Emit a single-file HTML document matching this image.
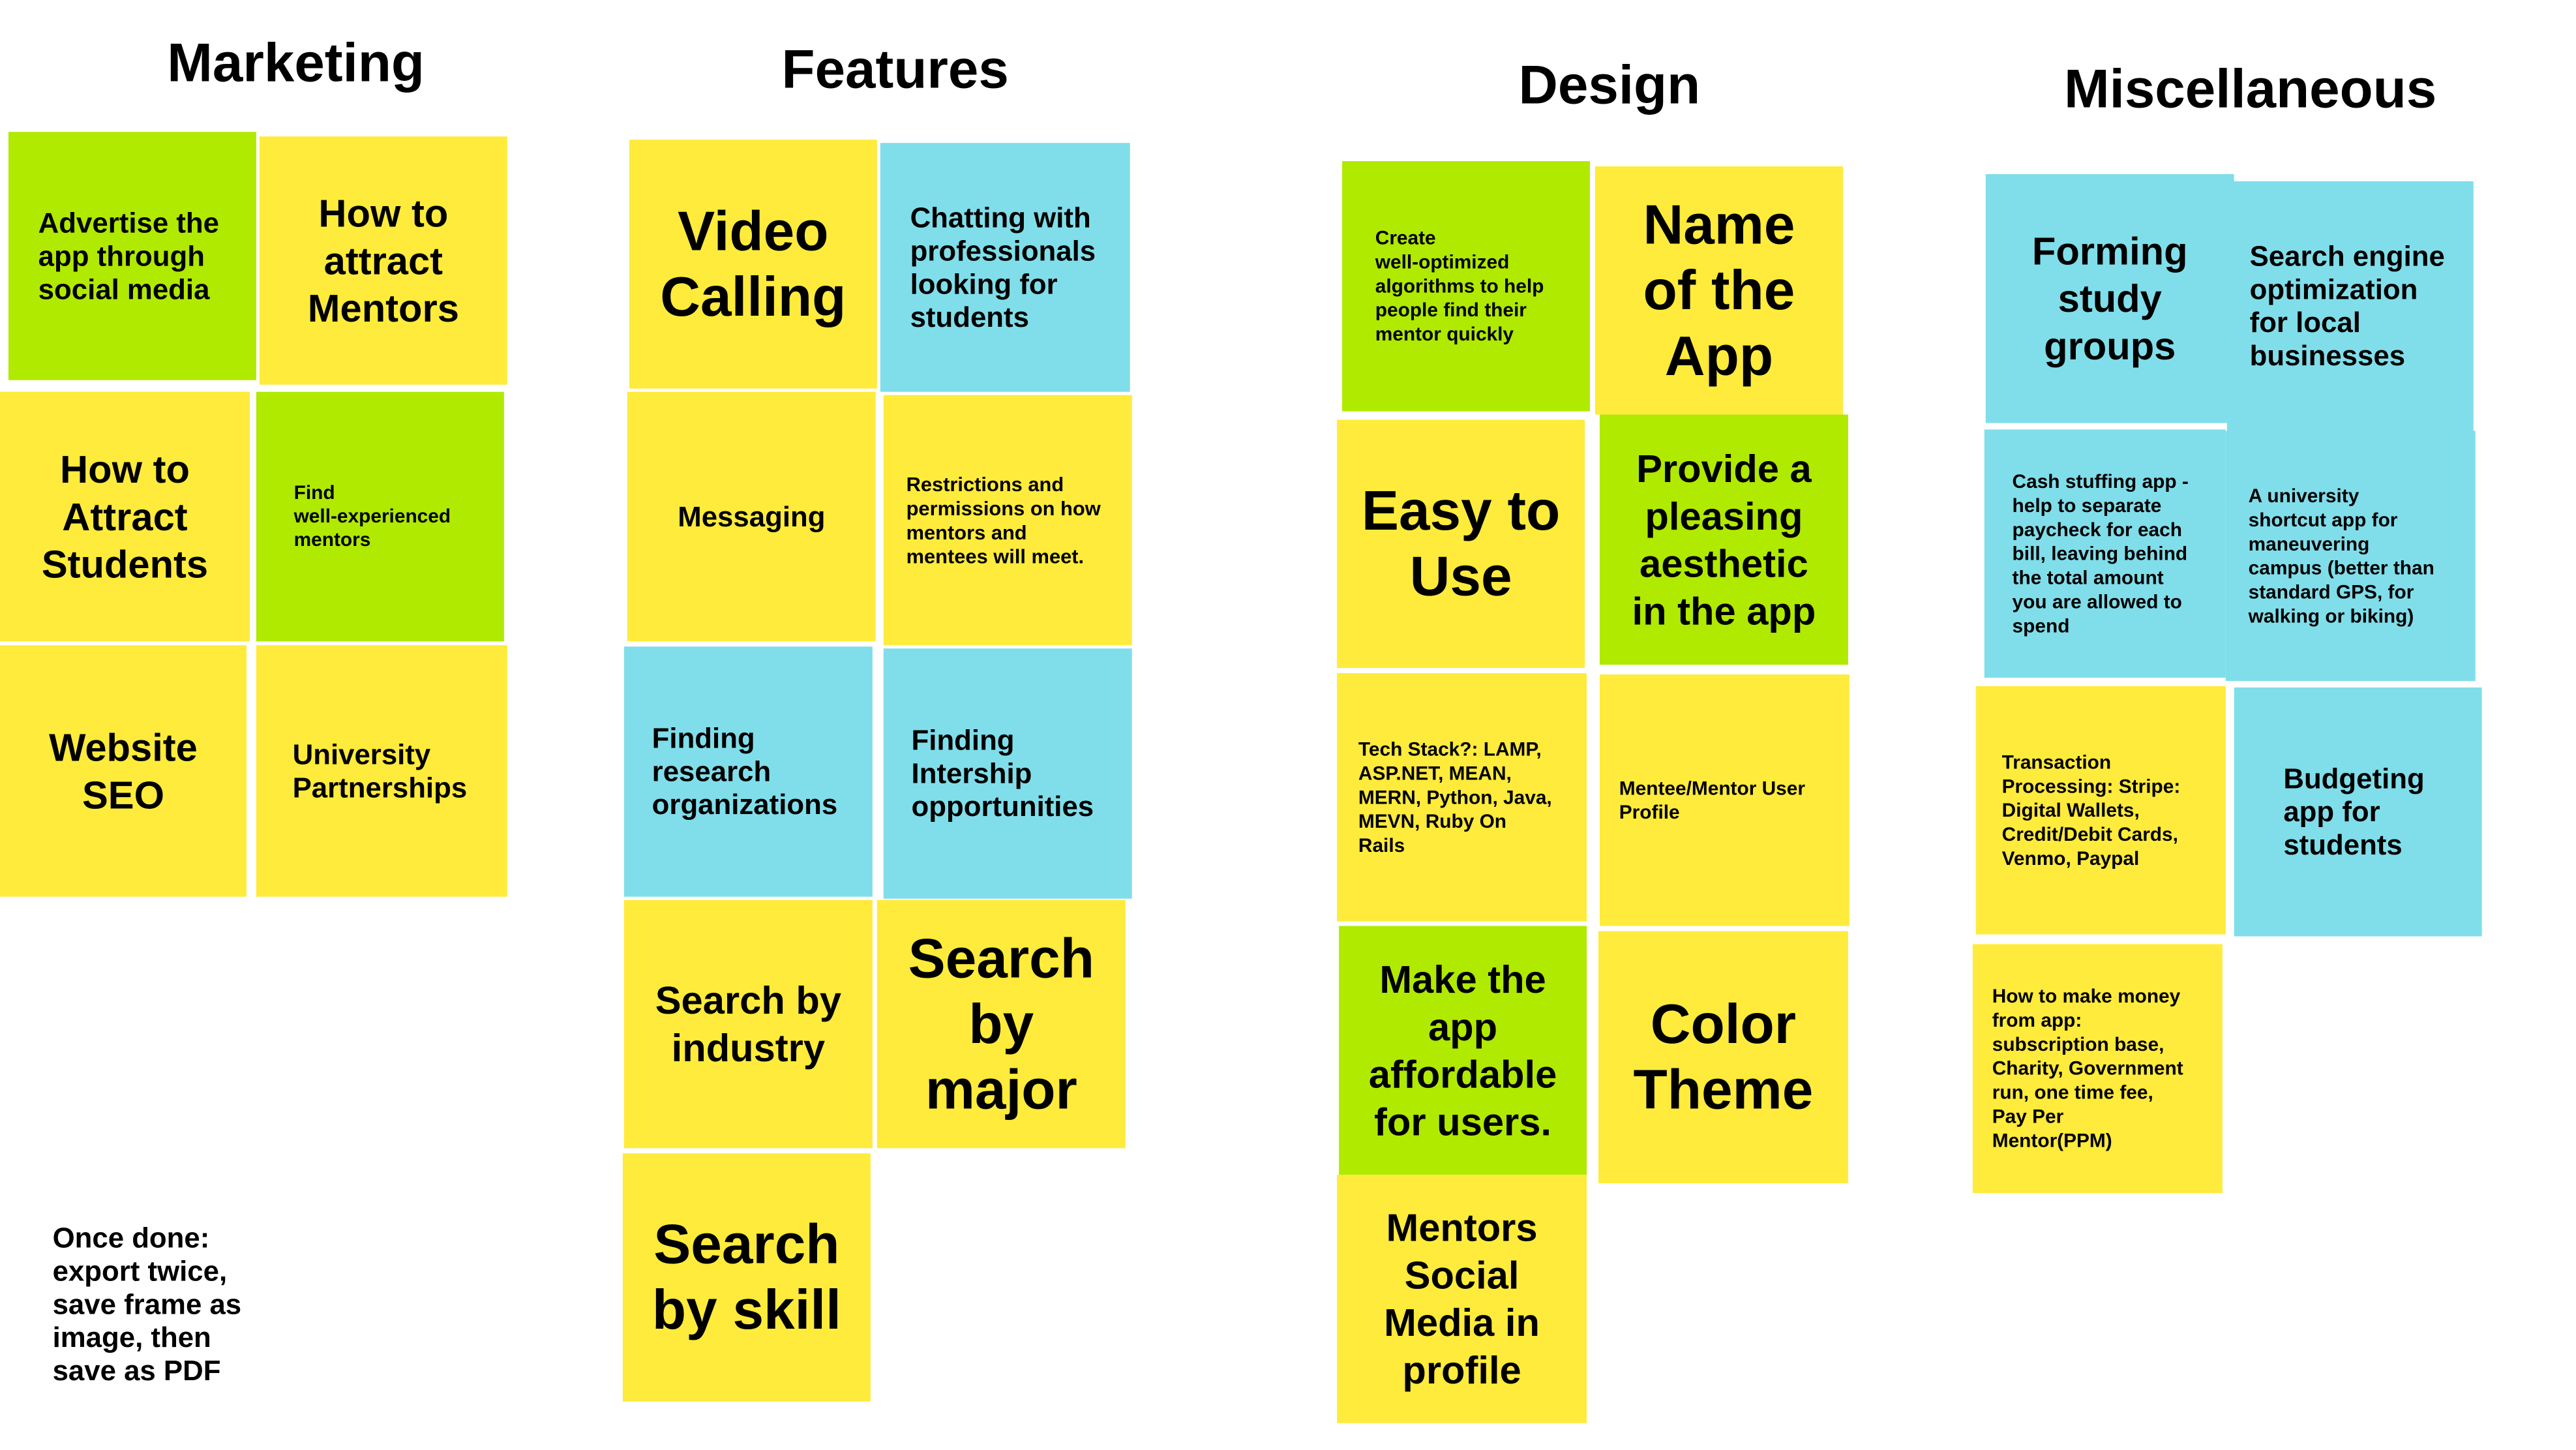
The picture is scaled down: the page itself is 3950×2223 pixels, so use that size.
<!DOCTYPE html>
<html><head><meta charset="utf-8"><style>
html,body{margin:0;padding:0;background:#fff}
body{width:3950px;height:2223px;position:relative;overflow:hidden;font-family:"Liberation Sans",sans-serif;font-weight:bold;color:#000}
#w{position:absolute;left:0;top:0;width:3950px;height:2223px;transform:scale(0.9947,0.9962);transform-origin:0 0}
.t{position:absolute;font-size:84px;transform:translateX(-50%);white-space:nowrap;line-height:1}
.n{position:absolute;display:flex;flex-direction:column;justify-content:center;box-sizing:border-box}
.y{background:#ffeb3b}.g{background:#b0ea00}.b{background:#80deea}
.c{text-align:center;align-items:center}
.l{text-align:left}
</style></head><body><div id="w">
<div class="t" style="left:456px;top:54px">Marketing</div>
<div class="t" style="left:1380px;top:64px">Features</div>
<div class="t" style="left:2481px;top:88px">Design</div>
<div class="t" style="left:3469px;top:94px">Miscellaneous</div>

<div class="n g l" style="left:13px;top:203px;width:382px;height:382px;padding-left:46px;font-size:44px;line-height:51px">Advertise the<br>app through<br>social media</div>
<div class="n y c" style="left:400px;top:210px;width:382px;height:382px;font-size:60px;line-height:73px">How to<br>attract<br>Mentors</div>
<div class="n y c" style="left:0px;top:603px;width:385px;height:384px;font-size:60px;line-height:73px">How to<br>Attract<br>Students</div>
<div class="n g l" style="left:395px;top:603px;width:382px;height:384px;padding-left:58px;font-size:30px;line-height:36px">Find<br>well-experienced<br>mentors</div>
<div class="n y c" style="left:0px;top:993px;width:380px;height:387px;font-size:60px;line-height:73px">Website<br>SEO</div>
<div class="n y l" style="left:395px;top:993px;width:387px;height:387px;padding-left:56px;font-size:44px;line-height:51px">University<br>Partnerships</div>

<div class="n y c" style="left:970px;top:215px;width:382px;height:383px;font-size:86px;line-height:101px">Video<br>Calling</div>
<div class="n b l" style="left:1357px;top:220px;width:385px;height:383px;padding-left:46px;font-size:44px;line-height:51px">Chatting with<br>professionals<br>looking for<br>students</div>
<div class="n y c" style="left:967px;top:603px;width:383px;height:384px;font-size:44px;line-height:51px">Messaging</div>
<div class="n y l" style="left:1362px;top:608px;width:383px;height:385px;padding-left:35px;font-size:31px;line-height:37px">Restrictions and<br>permissions on how<br>mentors and<br>mentees will meet.</div>
<div class="n b l" style="left:962px;top:995px;width:383px;height:385px;padding-left:43px;font-size:44px;line-height:51px">Finding<br>research<br>organizations</div>
<div class="n b l" style="left:1362px;top:998px;width:383px;height:385px;padding-left:43px;font-size:44px;line-height:51px">Finding<br>Intership<br>opportunities</div>
<div class="n y c" style="left:962px;top:1385px;width:383px;height:382px;font-size:60px;line-height:73px">Search by<br>industry</div>
<div class="n y c" style="left:1352px;top:1385px;width:383px;height:382px;font-size:86px;line-height:101px">Search<br>by<br>major</div>
<div class="n y c" style="left:960px;top:1775px;width:382px;height:382px;font-size:86px;line-height:101px">Search<br>by skill</div>

<div class="n g l" style="left:2069px;top:248px;width:382px;height:385px;padding-left:51px;font-size:30px;line-height:37px">Create<br>well-optimized<br>algorithms to help<br>people find their<br>mentor quickly</div>
<div class="n y c" style="left:2459px;top:256px;width:382px;height:382px;font-size:86px;line-height:101px">Name<br>of the<br>App</div>
<div class="n y c" style="left:2061px;top:646px;width:382px;height:382px;font-size:86px;line-height:101px">Easy to<br>Use</div>
<div class="n g c" style="left:2466px;top:638px;width:383px;height:385px;font-size:60px;line-height:73px">Provide a<br>pleasing<br>aesthetic<br>in the app</div>
<div class="n y l" style="left:2061px;top:1036px;width:385px;height:382px;padding-left:33px;font-size:30px;line-height:37px">Tech Stack?: LAMP,<br>ASP.NET, MEAN,<br>MERN, Python, Java,<br>MEVN, Ruby On<br>Rails</div>
<div class="n y l" style="left:2466px;top:1038px;width:385px;height:387px;padding-left:30px;font-size:30px;line-height:37px">Mentee/Mentor User<br>Profile</div>
<div class="n g c" style="left:2064px;top:1425px;width:382px;height:383px;font-size:60px;line-height:73px">Make the<br>app<br>affordable<br>for users.</div>
<div class="n y c" style="left:2464px;top:1433px;width:385px;height:388px;font-size:86px;line-height:101px">Color<br>Theme</div>
<div class="n y c" style="left:2061px;top:1808px;width:385px;height:382px;font-size:60px;line-height:73px">Mentors<br>Social<br>Media in<br>profile</div>

<div class="n b c" style="left:3061px;top:268px;width:383px;height:383px;font-size:60px;line-height:73px">Forming<br>study<br>groups</div>
<div class="n b l" style="left:3433px;top:279px;width:380px;height:384px;padding-left:35px;font-size:44px;line-height:51px">Search engine<br>optimization<br>for local<br>businesses</div>
<div class="n b l" style="left:3059px;top:661px;width:372px;height:382px;padding-left:43px;font-size:30px;line-height:37px">Cash stuffing app -<br>help to separate<br>paycheck for each<br>bill, leaving behind<br>the total amount<br>you are allowed to<br>spend</div>
<div class="n b l" style="left:3431px;top:663px;width:385px;height:385px;padding-left:35px;font-size:30px;line-height:37px">A university<br>shortcut app for<br>maneuvering<br>campus (better than<br>standard GPS, for<br>walking or biking)</div>
<div class="n y l" style="left:3046px;top:1056px;width:385px;height:382px;padding-left:40px;font-size:30px;line-height:37px">Transaction<br>Processing: Stripe:<br>Digital Wallets,<br>Credit/Debit Cards,<br>Venmo, Paypal</div>
<div class="n b l" style="left:3444px;top:1058px;width:382px;height:383px;padding-left:76px;font-size:44px;line-height:51px">Budgeting<br>app for<br>students</div>
<div class="n y l" style="left:3041px;top:1453px;width:385px;height:383px;padding-left:30px;font-size:30px;line-height:37px">How to make money<br>from app:<br>subscription base,<br>Charity, Government<br>run, one time fee,<br>Pay Per<br>Mentor(PPM)</div>

<div style="position:absolute;left:81px;top:1880px;font-size:44px;line-height:51px">Once done:<br>export twice,<br>save frame as<br>image, then<br>save as PDF</div>
</div></body></html>
